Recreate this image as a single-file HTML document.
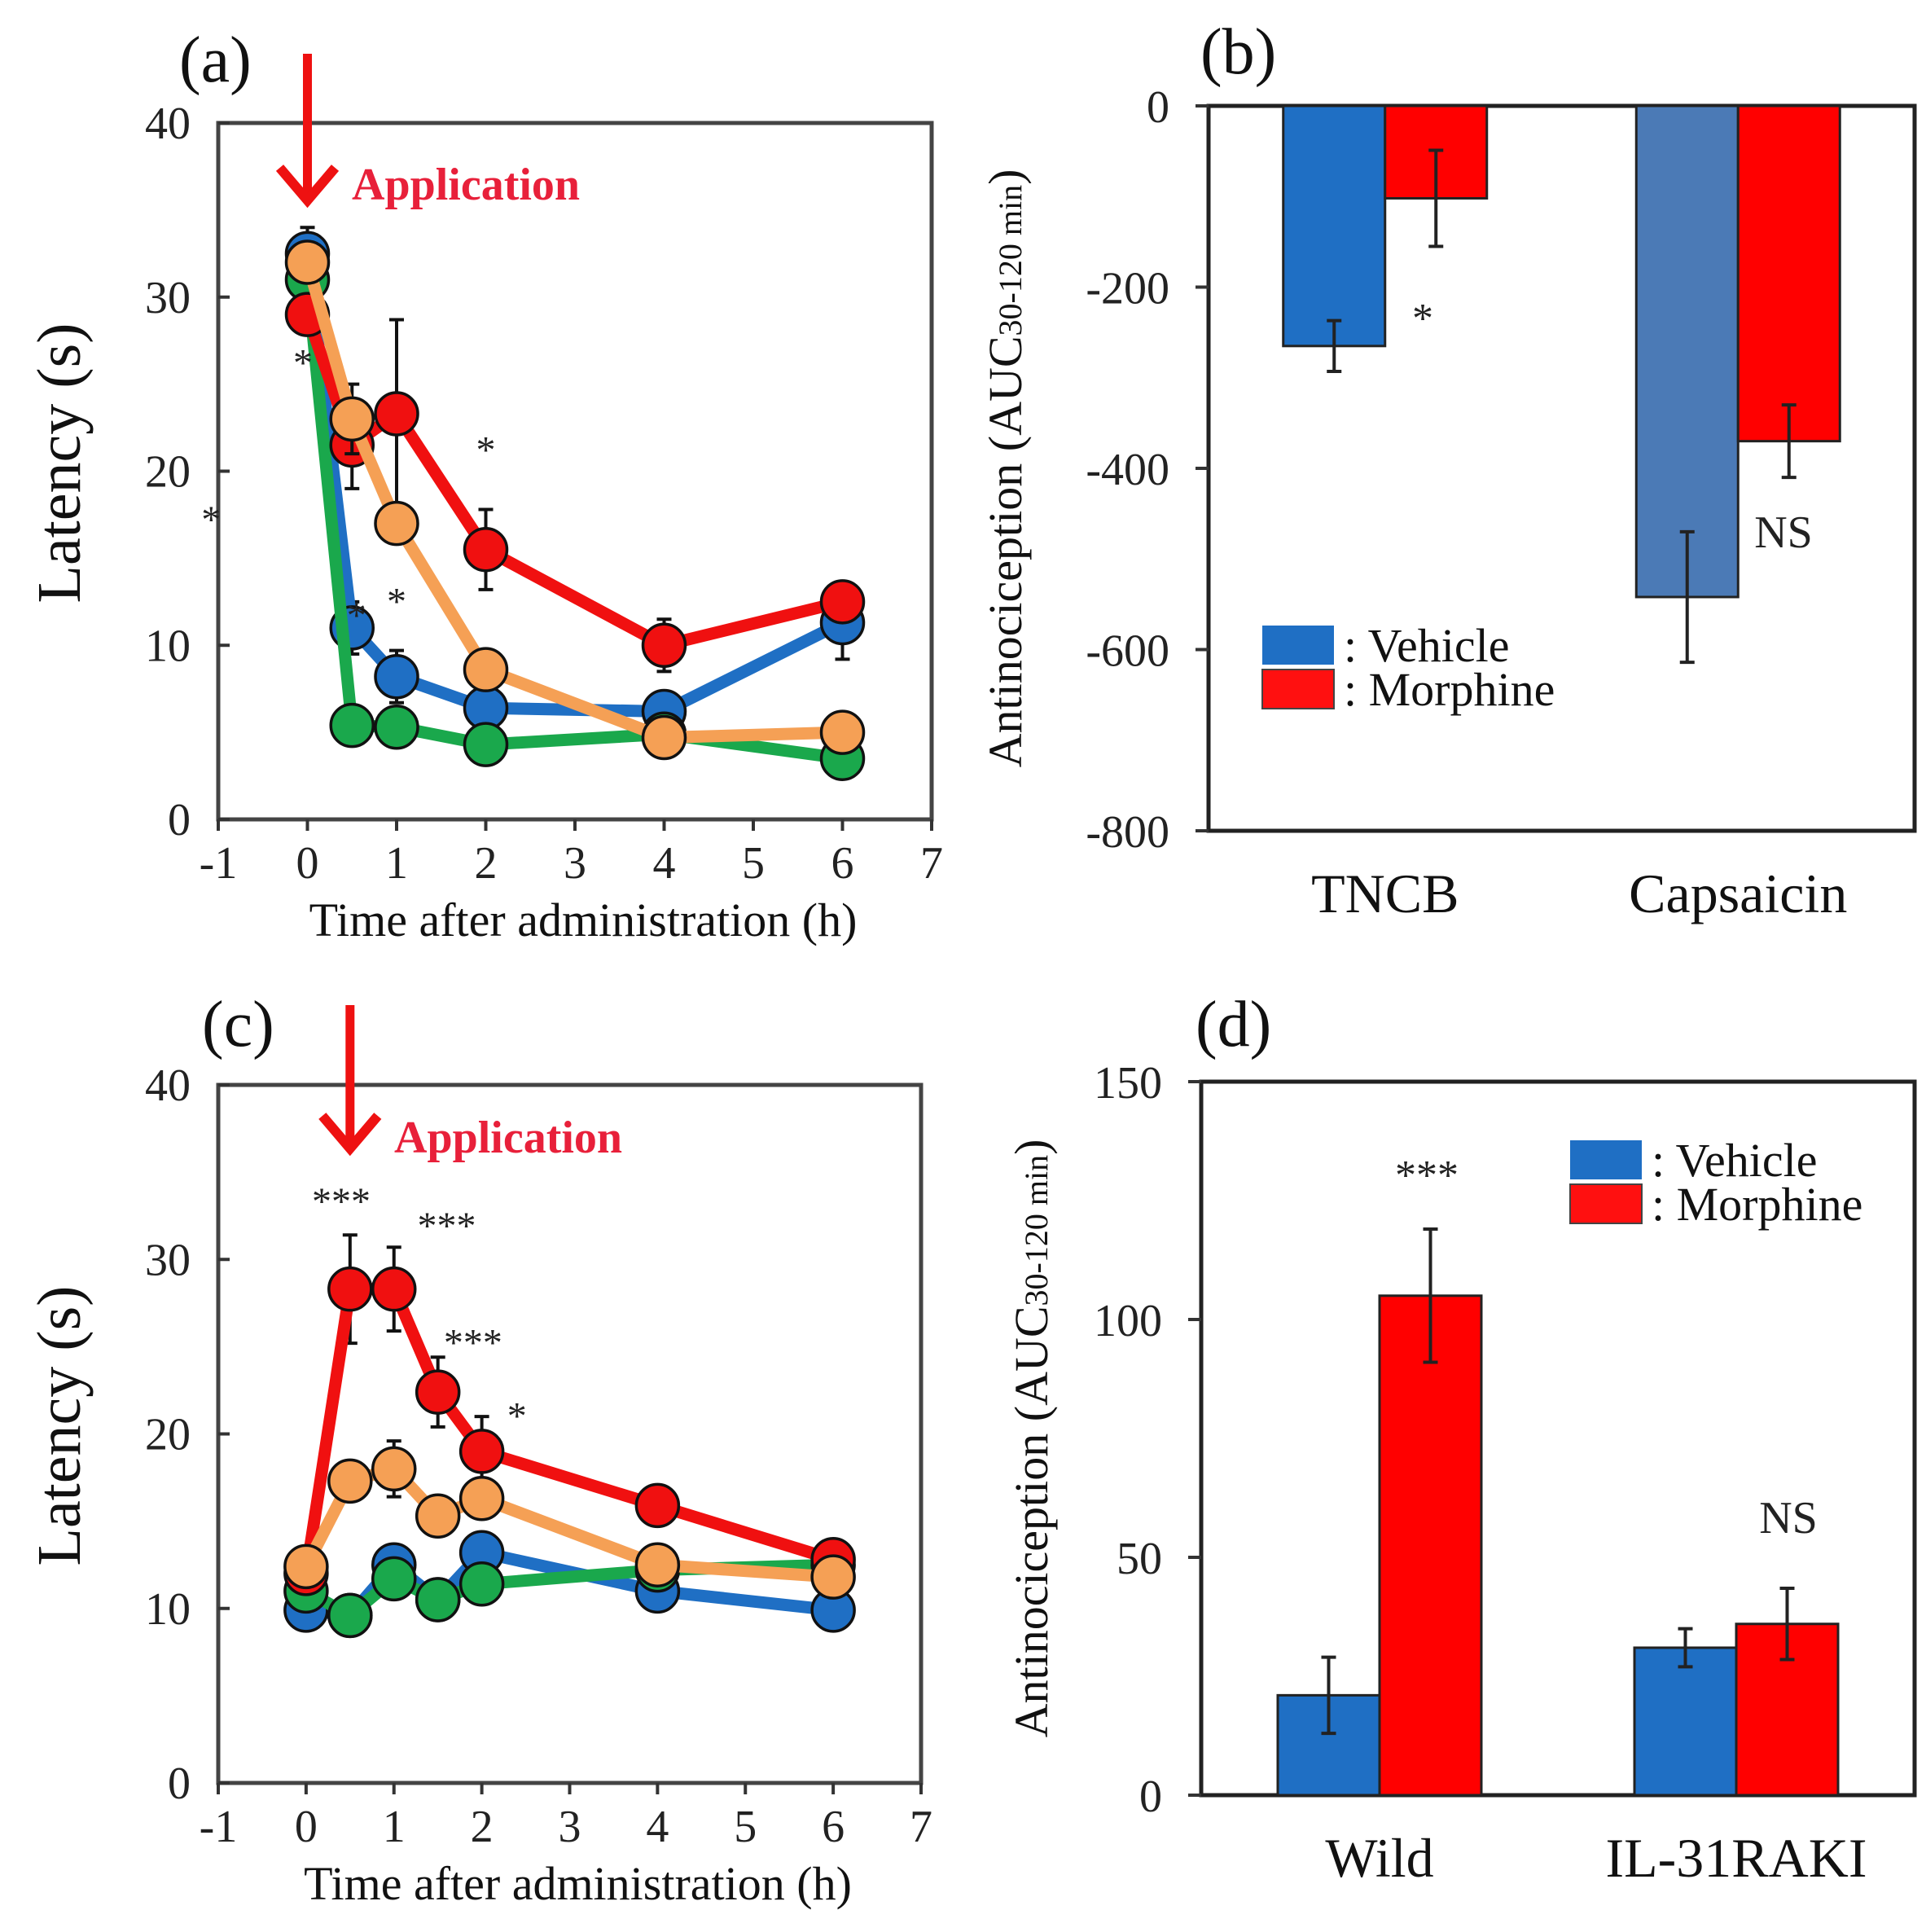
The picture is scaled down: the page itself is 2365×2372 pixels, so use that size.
<!DOCTYPE html>
<html><head><meta charset="utf-8"><style>
html,body{margin:0;padding:0;background:#fff;}
svg{display:block;font-family:"Liberation Serif",serif;}
</style></head><body>
<svg id="fig" width="2365" height="2372" viewBox="0 0 2365 2372" xmlns="http://www.w3.org/2000/svg"></svg>
<script>
// ---- Panel (a) data ----
const aTimes = [0, 0.5, 1, 2, 4, 6];
const aBlue = [32.5, 11, 8.2, 6.4, 6.2, 11.3];
const aGreen = [31, 5.4, 5.3, 4.3, 4.9, 3.5];
const aRed = [29, 21.5, 23.3, 15.5, 10, 12.5];
const aOrange = [32, 23, 17, 8.6, 4.7, 5];
const aRedErr = [0, 2.5, 5.4, 2.3, 1.5, 1];
const aBlueErr = [1.5, 1.5, 1.5, 0, 0, 2.1];
const aOrangeErr = [0, 2, 0, 0, 0, 0];
// ---- Panel (c) data ----
const cTimes = [0, 0.5, 1, 1.5, 2, 4, 6];
const cBlue = [9.9, 9.6, 12.5, 10.5, 13.2, 11, 9.9];
const cGreen = [11, 9.6, 11.7, 10.5, 11.4, 12.2, 12.5];
const cRed = [12, 28.3, 28.3, 22.4, 19, 15.9, 12.8];
const cOrange = [12.4, 17.3, 18, 15.3, 16.3, 12.5, 11.8];
const cRedErr = [0, 3.1, 2.4, 2, 2, 0, 0];
const cOrangeErr = [0, 0, 1.6, 0, 0, 0, 0];
const xTicks = [-1, 0, 1, 2, 3, 4, 5, 6, 7];
const latTicks = [0, 10, 20, 30, 40];
// ---- Panel (b) data ----
const bCats = ["TNCB", "Capsaicin"];
const bVehicle = [-265, -542];
const bMorphine = [-102, -370];
const bVehicleErr = [28, 72];
const bMorphineErr = [53, 40];
const bTicks = [0, -200, -400, -600, -800];
// ---- Panel (d) data ----
const dCats = ["Wild", "IL-31RAKI"];
const dVehicle = [21, 31];
const dMorphine = [105, 36];
const dVehicleErr = [8, 4];
const dMorphineErr = [14, 7.5];
const dTicks = [0, 50, 100, 150];

const svg = document.getElementById('fig');
const NS = 'http://www.w3.org/2000/svg';
function mk(tag, attrs, parent, text){
  const e = document.createElementNS(NS, tag);
  for (const k in attrs) e.setAttribute(k, attrs[k]);
  if (text !== undefined) e.textContent = text;
  (parent || svg).appendChild(e);
  return e;
}
const COL = {blue:'#1f6fc4', green:'#1aa84c', red:'#f01010', orange:'#f5a055'};

function linePanel(L, R, T, B, times, series, name, arrowX, arrowTop, appX, appY, label, labX, labY){
  const g = mk('g', {});
  
  
  const sx = v => L + (v + 1) / 8 * (R - L);
  const sy = v => B - v / 40 * (B - T);
  const box = mk('rect', {x:L, y:T, width:R-L, height:B-T, fill:'none', stroke:'#444', 'stroke-width':5}, g);
  
  
  xTicks.forEach(t => {
    mk('line', {x1:sx(t), x2:sx(t), y1:B, y2:B+14, stroke:'#333', 'stroke-width':4}, g);
    const tx = mk('text', {x:sx(t), y:B+72, 'font-size':56, 'text-anchor':'middle', fill:'#222'}, g, String(t));
    
    
  });
  latTicks.forEach(t => {
    mk('line', {x1:L, x2:L+14, y1:sy(t), y2:sy(t), stroke:'#333', 'stroke-width':4}, g);
    const tx = mk('text', {x:L-34, y:sy(t)+19, 'font-size':56, 'text-anchor':'end', fill:'#222'}, g, String(t));
    
    
  });
  const xt = mk('text', {x:(L+R)/2+10, y:B+143, 'font-size':58, 'text-anchor':'middle', fill:'#111'}, g, 'Time after administration (h)');
  
  
  const yt = mk('text', {x:0, y:0, 'font-size':76, 'text-anchor':'middle', fill:'#111', transform:`translate(98 ${(T+B)/2-10}) rotate(-90)`}, g, 'Latency (s)');
  
  
  const pl = mk('text', {x:labX, y:labY, 'font-size':80, fill:'#111'}, g, label);
  
  
  const ax = sx(arrowX);
  const ar = mk('g', {}, g);
  
  
  mk('line', {x1:ax, x2:ax, y1:arrowTop.y1, y2:arrowTop.y2-12, stroke:'#ee1111', 'stroke-width':11}, ar);
  mk('polyline', {points:`${ax-34},${arrowTop.y2-46} ${ax},${arrowTop.y2-6} ${ax+34},${arrowTop.y2-46}`, fill:'none', stroke:'#ee1111', 'stroke-width':12}, ar);
  const at = mk('text', {x:appX, y:appY, 'font-size':56, 'font-weight':'bold', fill:'#e8203a'}, g, 'Application');
  
  
  series.forEach(s => {
    const sg = mk('g', {}, g);
    
    
    if (s.err) s.vals.forEach((v, i) => {
      const e = s.err[i]; if (!e) return;
      const x = sx(times[i]);
      mk('line', {x1:x, x2:x, y1:sy(v+e), y2:sy(v-e), stroke:'#111', 'stroke-width':4}, sg);
      mk('line', {x1:x-9, x2:x+9, y1:sy(v+e), y2:sy(v+e), stroke:'#111', 'stroke-width':4}, sg);
      mk('line', {x1:x-9, x2:x+9, y1:sy(v-e), y2:sy(v-e), stroke:'#111', 'stroke-width':4}, sg);
    });
    const pts = s.vals.map((v, i) => `${sx(times[i])},${sy(v)}`).join(' ');
    const pline = mk('polyline', {points:pts, fill:'none', stroke:s.col, 'stroke-width':15, 'stroke-linejoin':'round'}, sg);
    
    
    s.vals.forEach((v, i) => {
      const c = mk('circle', {cx:sx(times[i]), cy:sy(v), r:26, fill:s.col, stroke:'#111', 'stroke-width':3.5}, sg);
      
      
    });
  });
  return {g, sx, sy};
}

const pa = linePanel(268, 1144, 151, 1006, aTimes, [
  {name:'series-blue', vals:aBlue, col:COL.blue, err:aBlueErr},
  {name:'series-green', vals:aGreen, col:COL.green},
  {name:'series-red', vals:aRed, col:COL.red, err:aRedErr},
  {name:'series-orange', vals:aOrange, col:COL.orange, err:aOrangeErr}
], 'panel-a', 0, {y1:66, y2:252}, 432, 245, '(a)', 220, 100);
[[-1.08,17.5],[-0.05,26.5],[1,12.8],[2,21.5],[0.55,12]].forEach(p => {
  const s = mk('text', {x:pa.sx(p[0]), y:pa.sy(p[1])+22, 'font-size':48, 'text-anchor':'middle', fill:'#222'}, pa.g, '*');
  
  
});

const pc = linePanel(268, 1131, 1332, 2189, cTimes, [
  {name:'series-blue', vals:cBlue, col:COL.blue},
  {name:'series-green', vals:cGreen, col:COL.green},
  {name:'series-red', vals:cRed, col:COL.red, err:cRedErr},
  {name:'series-orange', vals:cOrange, col:COL.orange, err:cOrangeErr}
], 'panel-c', 0.5, {y1:1234, y2:1416}, 484, 1415, '(c)', 248, 1284);
[[0.4,33.6,'***'],[1.6,32.2,'***'],[1.9,25.5,'***'],[2.4,21.3,'*']].forEach(p => {
  const s = mk('text', {x:pc.sx(p[0]), y:pc.sy(p[1])+22, 'font-size':48, 'text-anchor':'middle', fill:'#222'}, pc.g, p[2]);
  
  
});

function barPanel(L, R, T, B, vmin, vmax, ticks, cats, veh, mor, vehErr, morErr, vehCols, name, label, labX, labY, legX, legY, ytX, notes){
  const g = mk('g', {});
  
  
  const sy = v => B - (v - vmin) / (vmax - vmin) * (B - T);
  const bw = 125;
  const centers = [L + 0.25*(R-L), L + 0.75*(R-L)];
  mk('rect', {x:L, y:T, width:R-L, height:B-T, fill:'none', stroke:'#222', 'stroke-width':5}, g);
  ticks.forEach(t => {
    mk('line', {x1:L-16, x2:L, y1:sy(t), y2:sy(t), stroke:'#333', 'stroke-width':4}, g);
    const tx = mk('text', {x:L-48, y:sy(t)+20, 'font-size':56, 'text-anchor':'end', fill:'#222'}, g, String(t));
    
    
  });
  const base = sy(0);
  cats.forEach((c, i) => {
    const cx = centers[i];
    const bars = [[veh[i], vehErr[i], vehCols[i], cx - bw, 'vehicle-bar'], [mor[i], morErr[i], '#ff0000', cx, 'morphine-bar']];
    bars.forEach(b => {
      const y1 = Math.min(base, sy(b[0])), h = Math.abs(sy(b[0]) - base);
      const r = mk('rect', {x:b[3], y:y1, width:bw, height:h, fill:b[2], stroke:'#222', 'stroke-width':3}, g);
      
      
      const mx = b[3] + bw/2;
      mk('line', {x1:mx, x2:mx, y1:sy(b[0]+b[1]), y2:sy(b[0]-b[1]), stroke:'#222', 'stroke-width':4}, g);
      mk('line', {x1:mx-9, x2:mx+9, y1:sy(b[0]+b[1]), y2:sy(b[0]+b[1]), stroke:'#222', 'stroke-width':4}, g);
      mk('line', {x1:mx-9, x2:mx+9, y1:sy(b[0]-b[1]), y2:sy(b[0]-b[1]), stroke:'#222', 'stroke-width':4}, g);
    });
    const ct = mk('text', {x:cx, y:B+100, 'font-size':68, 'text-anchor':'middle', fill:'#111'}, g, c);
    
    
  });
  const yt = mk('text', {x:0, y:0, 'font-size':58, 'text-anchor':'middle', fill:'#111', transform:`translate(${ytX} ${(T+B)/2}) rotate(-90)`}, g);
  
  
  mk('tspan', {}, yt, 'Antinociception (AUC');
  mk('tspan', {'font-size':40}, yt, '30-120 min');
  mk('tspan', {}, yt, ')');
  const pl = mk('text', {x:labX, y:labY, 'font-size':80, fill:'#111'}, g, label);
  
  
  const lg = mk('g', {}, g);
  
  
  mk('rect', {x:legX, y:legY, width:88, height:48, fill:'#1f6fc4'}, lg);
  mk('rect', {x:legX, y:legY+54, width:88, height:48, fill:'#ff1010', stroke:'#444', 'stroke-width':2}, lg);
  mk('text', {x:legX+100, y:legY+44, 'font-size':58, fill:'#111'}, lg, ': Vehicle');
  mk('text', {x:legX+100, y:legY+98, 'font-size':58, fill:'#111'}, lg, ': Morphine');
  notes.forEach(n => {
    const t = mk('text', {x:n[0], y:n[1], 'font-size':n[3], 'text-anchor':'middle', fill:'#222'}, g, n[2]);
    
    
  });
}

barPanel(1484, 2351, 130, 1020, -800, 0, bTicks, bCats, bVehicle, bMorphine, bVehicleErr, bMorphineErr,
  ['#1f6fc4', '#4b7ab6'], 'panel-b', '(b)', 1474, 90, 1550, 768, 1254,
  [[1747, 408, '*', 52], [2190, 672, 'NS', 56]]);
barPanel(1475, 2351, 1328, 2204, 0, 150, dTicks, dCats, dVehicle, dMorphine, dVehicleErr, dMorphineErr,
  ['#1f6fc4', '#1f6fc4'], 'panel-d', '(d)', 1468, 1284, 1928, 1400, 1286,
  [[1752, 1460, '***', 52], [2196, 1882, 'NS', 56]]);
</script>
</body></html>
